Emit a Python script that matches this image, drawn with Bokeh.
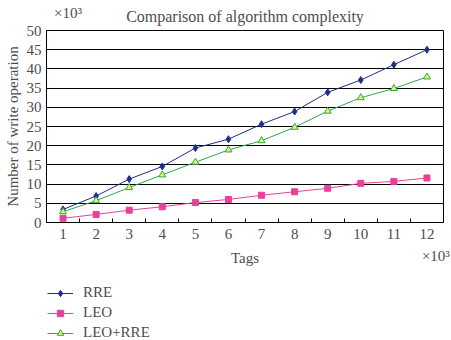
from bokeh.plotting import figure
from bokeh.models import (FixedTicker, Legend, LegendItem, Range1d, LinearAxis)
from bokeh.layouts import column
from bokeh.embed import file_html
from bokeh.resources import INLINE

tags = [1, 2, 3, 4, 5, 6, 7, 8, 9, 10, 11, 12]
rre = [3.4, 6.9, 11.3, 14.6, 19.4, 21.7, 25.6, 28.9, 33.9, 37.1, 41.1, 45.0]
leo = [1.1, 2.1, 3.2, 4.1, 5.2, 6.0, 7.1, 8.0, 8.9, 10.2, 10.7, 11.6]
leo_rre = [2.8, 5.7, 9.1, 12.4, 15.7, 18.9, 21.3, 24.8, 29.0, 32.5, 34.9, 37.9]
y_ticks = [0, 5, 10, 15, 20, 25, 30, 35, 40, 45, 50]
series_names = ["RRE", "LEO", "LEO+RRE"]
title_text = "Comparison of algorithm complexity"
x_title = "Tags"
y_title = "Number of write operation"
scale_text = "×10³"

FONT = "Liberation Serif"
TXT = "#4d4d4d"
FS = "15px"

p = figure(frame_width=397, frame_height=192, output_backend="svg", toolbar_location=None,
           x_range=Range1d(0.5, 12.5), y_range=Range1d(0, 50), title=None,
           min_border_left=46, min_border_right=8, min_border_top=30,
           min_border_bottom=50)
p.outline_line_color = "black"
p.outline_line_width = 1
p.background_fill_color = "white"
p.border_fill_color = "white"

main_x = p.xaxis[0]
main_y = p.yaxis[0]

main_x.ticker = FixedTicker(ticks=tags, minor_ticks=[t + 0.5 for t in tags[:-1]])
main_x.major_tick_line_color = None
main_x.major_tick_out = 0
main_x.major_tick_in = 0
main_x.minor_tick_in = 4
main_x.minor_tick_out = 0
main_x.minor_tick_line_color = "black"
main_x.axis_line_color = "black"
main_x.major_label_standoff = 6

main_y.ticker = FixedTicker(ticks=y_ticks)
main_y.major_tick_line_color = None
main_y.major_tick_out = 0
main_y.minor_tick_line_color = None
main_y.axis_line_color = "black"
main_y.axis_label = y_title
main_y.axis_label_standoff = 3
main_y.major_label_standoff = 5

# second bottom axis: "×10³" and "Tags" on one row
ax_b = LinearAxis(ticker=FixedTicker(ticks=[12.27]),
                  major_label_overrides={12.27: scale_text},
                  axis_line_color=None, major_tick_line_color=None,
                  minor_tick_line_color=None, major_tick_out=0, major_tick_in=0,
                  minor_tick_out=0, minor_tick_in=0,
                  major_label_standoff=6, axis_label=x_title,
                  axis_label_standoff=-17)
p.add_layout(ax_b, "below")

# top axis: "×10³" and chart title
ax_t = LinearAxis(ticker=FixedTicker(ticks=[1.15]),
                  major_label_overrides={1.15: scale_text},
                  axis_line_color=None, major_tick_line_color=None,
                  minor_tick_line_color=None, major_tick_out=0, major_tick_in=0,
                  minor_tick_out=0, minor_tick_in=0,
                  major_label_standoff=10, axis_label=title_text,
                  axis_label_standoff=-23)
p.add_layout(ax_t, "above")

for ax in (main_x, main_y, ax_b, ax_t):
    ax.major_label_text_font = FONT
    ax.major_label_text_font_size = FS
    ax.major_label_text_color = TXT
    ax.axis_label_text_font = FONT
    ax.axis_label_text_font_size = FS
    ax.axis_label_text_font_style = "normal"
    ax.axis_label_text_color = TXT
ax_t.axis_label_text_font_size = "16px"

p.xgrid.grid_line_color = None
p.ygrid.ticker = FixedTicker(ticks=y_ticks)
p.ygrid.grid_line_color = "black"
p.ygrid.grid_line_width = 1

c_rre = "#1f2d8c"
c_leo = "#e8419a"
c_lr = "#2ea84c"
f_lr = "#e6f36a"

p.line(tags, rre, line_color=c_rre, line_width=1)
p.scatter(tags, rre, marker="diamond", size=7, fill_color=c_rre, line_color=c_rre)
p.line(tags, leo, line_color=c_leo, line_width=1)
p.scatter(tags, leo, marker="square", size=6, fill_color=c_leo, line_color=c_leo)
p.line(tags, leo_rre, line_color=c_lr, line_width=1)
p.scatter(tags, leo_rre, marker="triangle", size=7, fill_color=f_lr, line_color=c_lr)

# legend figure below
q = figure(width=451, height=68, output_backend="svg", toolbar_location=None,
           x_range=Range1d(0, 1), y_range=Range1d(0, 1), title=None,
           x_axis_location=None, y_axis_location=None,
           min_border=0, min_border_left=0, min_border_right=0,
           min_border_top=0, min_border_bottom=0)
q.outline_line_color = None
q.xgrid.grid_line_color = None
q.ygrid.grid_line_color = None
q.background_fill_color = "white"
q.border_fill_color = "white"

# off-range placeholder renderers, used only for the legend swatches
hx, hy = [5], [5]
g1 = q.line(hx, hy, line_color=c_rre, line_width=1)
s1 = q.scatter(hx, hy, marker="diamond", size=7, fill_color=c_rre, line_color=c_rre)
g2 = q.line(hx, hy, line_color=c_leo, line_width=1)
s2 = q.scatter(hx, hy, marker="square", size=6, fill_color=c_leo, line_color=c_leo)
g3 = q.line(hx, hy, line_color=c_lr, line_width=1)
s3 = q.scatter(hx, hy, marker="triangle", size=7, fill_color=f_lr, line_color=c_lr)

legend = Legend(items=[LegendItem(label=series_names[0], renderers=[g1, s1]),
                       LegendItem(label=series_names[1], renderers=[g2, s2]),
                       LegendItem(label=series_names[2], renderers=[g3, s3])],
                orientation="vertical", location=(1, -1),
                border_line_color=None, background_fill_alpha=0,
                label_text_font=FONT, label_text_font_size=FS,
                label_text_color=TXT, glyph_width=26, glyph_height=16,
                label_height=16, spacing=3, padding=0, margin=0,
                label_standoff=10)
q.add_layout(legend)

layout = column(p, q, spacing=0)
open("out.html", "w").write(file_html(layout, INLINE))
